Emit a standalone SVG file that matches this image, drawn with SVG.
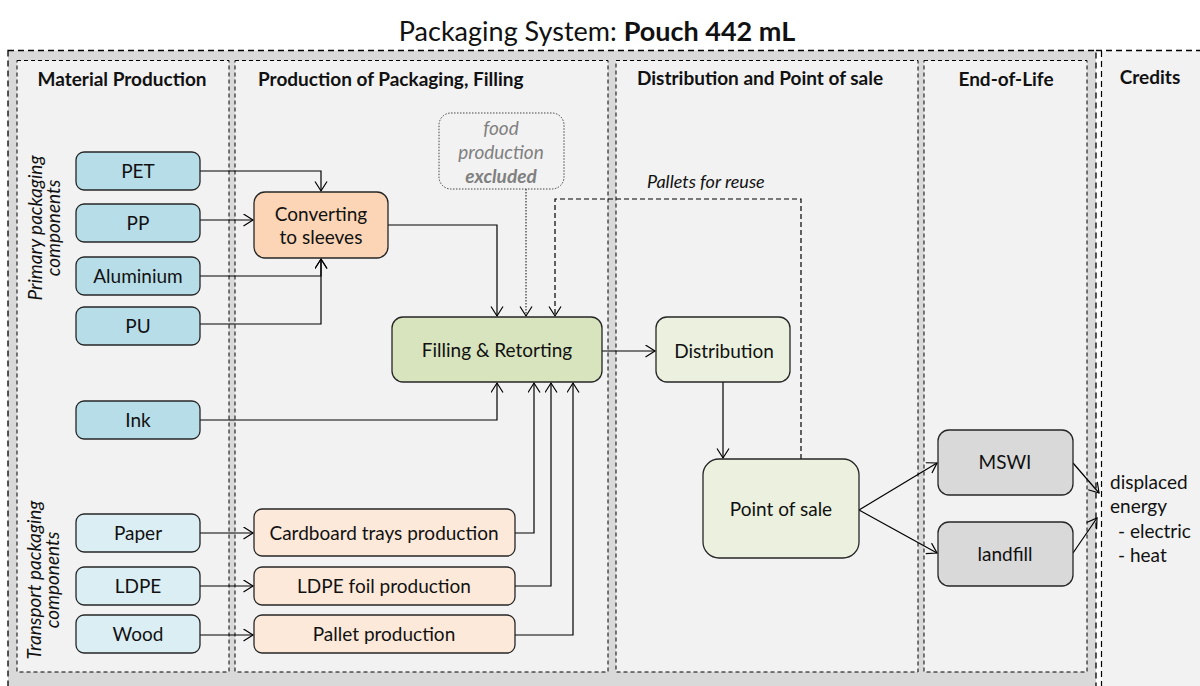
<svg xmlns="http://www.w3.org/2000/svg" width="1200" height="686" viewBox="0 0 1200 686">
  <defs>
    <marker id="arrow" markerUnits="userSpaceOnUse" markerWidth="12" markerHeight="14" refX="10" refY="6.5" orient="auto">
      <path d="M0.5,0.5 L10,6.5 L0.5,12.5" fill="none" stroke="#000" stroke-width="1.2"/>
    </marker>
  </defs>
  <style>
    text { font-family: Lato, "Liberation Sans", sans-serif; fill: #111; }
    .title { font-size: 27px; }
    .head { font-size: 19px; font-weight: bold; }
    .lbl { font-size: 19px; text-anchor: middle; }
    .side { font-size: 19px; font-style: italic; text-anchor: middle; }
    .note { font-size: 18px; font-style: italic; }
    .credit { font-size: 19px; }
    .col { fill: #f2f2f2; stroke: #000; stroke-width: 1; stroke-dasharray: 4 3; }
    .node { stroke: #262626; stroke-width: 1.3; }
    .blue { fill: #b7dde8; }
    .lblue { fill: #daeef3; }
    .orange { fill: #fbd5b5; }
    .lorange { fill: #fde9d9; }
    .green { fill: #d7e4bd; }
    .lgreen { fill: #ebf1de; }
    .grey { fill: #d9d9d9; }
    .edge { fill: none; stroke: #000; stroke-width: 1.2; marker-end: url(#arrow); }
    .dashed { stroke-dasharray: 5 3; }
    .dotted { stroke-dasharray: 1.5 1.5; stroke: #333; }
  </style>

  <rect width="1200" height="686" fill="#ffffff"/>

  <!-- title -->
  <text class="title" x="597" y="41" text-anchor="middle">Packaging System: <tspan font-weight="bold">Pouch 442 mL</tspan></text>

  <!-- system boundary -->
  <rect x="8" y="50.5" width="1088" height="650" fill="#d9d9d9" stroke="#000" stroke-width="1.3" stroke-dasharray="6 4"/>
  <!-- credits area -->
  <rect x="1101" y="51" width="110" height="650" fill="#f2f2f2"/>
  <path d="M1096,50.5 H1200" fill="none" stroke="#000" stroke-width="1.3" stroke-dasharray="6 4"/>
  <path d="M1101.5,51 V686" fill="none" stroke="#000" stroke-width="1.2" stroke-dasharray="6 4"/>

  <!-- life cycle stages -->
  <g id="stages">
    <rect class="col" x="17" y="60.5" width="212" height="611.5"/>
    <rect class="col" x="235" y="60.5" width="373" height="611.5"/>
    <rect class="col" x="616" y="60.5" width="302" height="611.5"/>
    <rect class="col" x="924" y="60.5" width="163" height="611.5"/>
    <text class="head" x="122" y="86" text-anchor="middle">Material Production</text>
    <text class="head" x="258" y="86">Production of Packaging, Filling</text>
    <text class="head" x="637" y="85">Distribution and Point of sale</text>
    <text class="head" x="1006" y="86" text-anchor="middle">End-of-Life</text>
    <text class="head" x="1150" y="84" text-anchor="middle">Credits</text>
  </g>

  <!-- component group labels -->
  <g id="side-labels">
    <text class="side" transform="translate(42,228) rotate(-90)">Primary packaging<tspan x="0" dy="18">components</tspan></text>
    <text class="side" transform="translate(41,580) rotate(-90)">Transport packaging<tspan x="0" dy="18">components</tspan></text>
  </g>

  <!-- connectors -->
  <g id="connectors">
    <path class="edge" d="M200,171 H321 V191"/>
    <path class="edge" d="M200,220 H253"/>
    <path class="edge" d="M200,276 H321 V259"/>
    <path class="edge" d="M200,324 H321 V259"/>
    <path class="edge" d="M388,225 H497 V316"/>
    <path class="edge dotted" d="M526,189 V316"/>
    <path class="edge dashed" d="M801,459 V199 H555 V316"/>
    <path class="edge" d="M200,420 H497 V383"/>
    <path class="edge" d="M515,533 H534 V383"/>
    <path class="edge" d="M515,586 H551 V383"/>
    <path class="edge" d="M515,635 H573 V383"/>
    <path class="edge" d="M200,533 H253"/>
    <path class="edge" d="M200,586 H253"/>
    <path class="edge" d="M200,635 H253"/>
    <path class="edge" d="M602,351 H655"/>
    <path class="edge" d="M723,382 V458"/>
    <path class="edge" d="M859,510 L937,463"/>
    <path class="edge" d="M859,510 L937,553"/>
    <path class="edge" d="M1073,463 L1099,493"/>
    <path class="edge" d="M1073,553 L1097,518"/>
    <text class="note" x="647" y="188">Pallets for reuse</text>
  </g>

  <!-- material production -->
  <g id="pet"><rect class="node blue" x="76" y="152" width="124" height="38" rx="8"/><text class="lbl" x="138" y="178">PET</text></g>
  <g id="pp"><rect class="node blue" x="76" y="204" width="124" height="38" rx="8"/><text class="lbl" x="138" y="230">PP</text></g>
  <g id="aluminium"><rect class="node blue" x="76" y="257" width="124" height="38" rx="8"/><text class="lbl" x="138" y="283">Aluminium</text></g>
  <g id="pu"><rect class="node blue" x="76" y="307" width="124" height="38" rx="8"/><text class="lbl" x="138" y="333">PU</text></g>
  <g id="ink"><rect class="node blue" x="76" y="401" width="124" height="38" rx="8"/><text class="lbl" x="138" y="427">Ink</text></g>
  <g id="paper"><rect class="node lblue" x="76" y="514" width="124" height="38" rx="8"/><text class="lbl" x="138" y="540">Paper</text></g>
  <g id="ldpe"><rect class="node lblue" x="76" y="567" width="124" height="38" rx="8"/><text class="lbl" x="138" y="593">LDPE</text></g>
  <g id="wood"><rect class="node lblue" x="76" y="615" width="124" height="38" rx="8"/><text class="lbl" x="138" y="641">Wood</text></g>

  <!-- packaging production and filling -->
  <g id="converting"><rect class="node orange" x="254" y="192" width="134" height="66" rx="11"/><text class="lbl" x="321" y="221">Converting<tspan x="321" dy="23">to sleeves</tspan></text></g>
  <g id="food-production">
    <rect x="439" y="113" width="125" height="76" rx="12" fill="none" stroke="#444" stroke-width="1" stroke-dasharray="1.5 1.5"/>
    <text class="lbl" x="501" y="135" style="fill:#808080;font-style:italic">food<tspan x="501" dy="24">production</tspan><tspan x="501" dy="24" font-weight="bold">excluded</tspan></text>
  </g>
  <g id="filling"><rect class="node green" x="392" y="317" width="210" height="65" rx="11"/><text class="lbl" x="497" y="357">Filling &amp; Retorting</text></g>
  <g id="cardboard"><rect class="node lorange" x="254" y="509" width="261" height="47" rx="8"/><text class="lbl" x="384" y="540">Cardboard trays production</text></g>
  <g id="ldpe-foil"><rect class="node lorange" x="254" y="567" width="261" height="38" rx="8"/><text class="lbl" x="384" y="593">LDPE foil production</text></g>
  <g id="pallet"><rect class="node lorange" x="254" y="615" width="261" height="38" rx="8"/><text class="lbl" x="384" y="641">Pallet production</text></g>

  <!-- distribution and point of sale -->
  <g id="distribution"><rect class="node lgreen" x="656" y="317" width="134" height="65" rx="11"/><text class="lbl" x="724" y="358">Distribution</text></g>
  <g id="point-of-sale"><rect class="node lgreen" x="703" y="459" width="156" height="99" rx="16"/><text class="lbl" x="781" y="516">Point of sale</text></g>

  <!-- end of life -->
  <g id="mswi"><rect class="node grey" x="938" y="430" width="135" height="65" rx="11"/><text class="lbl" x="1005" y="469">MSWI</text></g>
  <g id="landfill"><rect class="node grey" x="938" y="522" width="135" height="64" rx="11"/><text class="lbl" x="1005" y="561">landfill</text></g>

  <!-- credits -->
  <g id="displaced-energy">
    <text class="credit" x="1110" y="489">displaced</text>
    <text class="credit" x="1110" y="513">energy</text>
    <text class="credit" x="1118" y="538">- electric</text>
    <text class="credit" x="1118" y="562">- heat</text>
  </g>
</svg>
